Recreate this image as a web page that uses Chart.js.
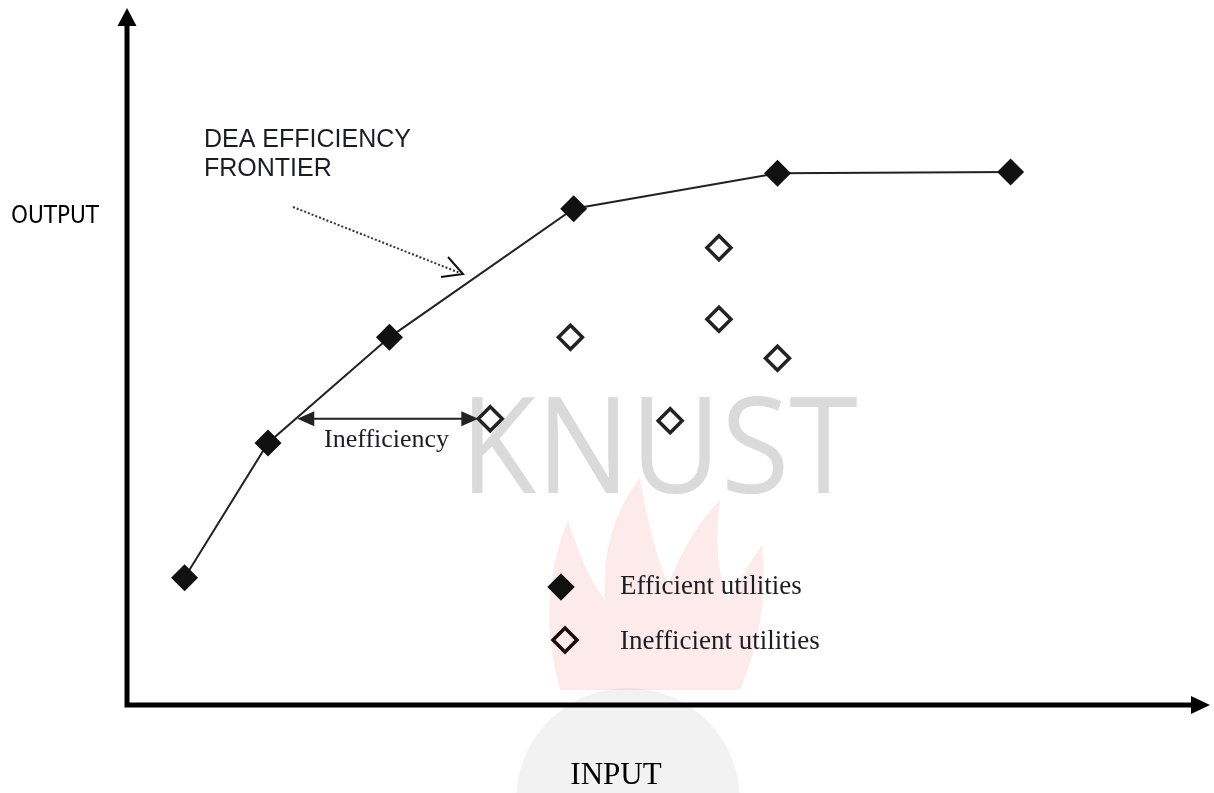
<!DOCTYPE html>
<html>
<head>
<meta charset="utf-8">
<script src="https://cdn.jsdelivr.net/npm/chart.js@4.4.0/dist/chart.umd.min.js"></script>
<style>
  html, body { margin: 0; padding: 0; background: #fff; }
  canvas { display: block; }
</style>
</head>
<body>
<canvas id="deaChart" width="1214" height="793"></canvas>
<script>
// --- datos (unidades arbitrarias 0-100) ---
const efficientInput = [5.4, 13.1, 24.3, 41.3, 60.1, 81.6];
const efficientOutput = [18.3, 37.7, 52.9, 71.4, 76.5, 76.7];
const inefficientInput = [33.6, 41.0, 50.2, 54.7, 54.7, 60.1];
const inefficientOutput = [41.2, 52.9, 40.9, 65.8, 55.5, 49.9];

// flecha "Inefficiency": desde la frontera hasta la unidad ineficiente
const gapFrom = 15.8;
const gapTo = 32.5;
const gapOutput = 41.2;

const axisTitleX = 'INPUT';
const axisTitleY = 'OUTPUT';
const frontierLabel = ['DEA EFFICIENCY', 'FRONTIER'];
const gapLabel = 'Inefficiency';
const legendLabels = ['Efficient utilities', 'Inefficient utilities'];

const ink = '#1c1c24';

function toPoints(xs, ys) {
    return xs.map((x, i) => ({ x: x, y: ys[i] }));
}

function arrowHead(ctx, tipX, tipY, angle, len, half) {
    ctx.save();
    ctx.translate(tipX, tipY);
    ctx.rotate(angle);
    ctx.beginPath();
    ctx.moveTo(0, 0);
    ctx.lineTo(-len, -half);
    ctx.lineTo(-len, half);
    ctx.closePath();
    ctx.fill();
    ctx.restore();
}

// --- marca de agua (KNUST + llama) ---
const watermarkPlugin = {
    id: 'watermark',
    beforeDatasetsDraw(chart) {
        const ctx = chart.ctx;
        ctx.save();
        // llama tenue
        ctx.fillStyle = 'rgba(245, 140, 140, 0.18)';
        ctx.beginPath();
        ctx.moveTo(560, 690);
        ctx.quadraticCurveTo(535, 600, 568, 520);
        ctx.quadraticCurveTo(585, 575, 605, 600);
        ctx.quadraticCurveTo(600, 530, 640, 478);
        ctx.quadraticCurveTo(650, 540, 668, 585);
        ctx.quadraticCurveTo(690, 530, 720, 500);
        ctx.quadraticCurveTo(712, 560, 728, 600);
        ctx.quadraticCurveTo(745, 570, 762, 545);
        ctx.quadraticCurveTo(770, 620, 740, 690);
        ctx.closePath();
        ctx.fill();
        // círculo gris inferior
        ctx.fillStyle = 'rgba(0, 0, 0, 0.05)';
        ctx.beginPath();
        ctx.arc(628, 800, 112, Math.PI, 2 * Math.PI);
        ctx.fill();
        // texto KNUST
        ctx.fillStyle = '#dadada';
        ctx.font = '400 134px "Open Sans", "DejaVu Sans", sans-serif';
        ctx.textBaseline = 'alphabetic';
        const w = ctx.measureText('KNUST').width;
        ctx.translate(460, 493);
        ctx.scale(398 / w, 1);
        ctx.fillText('KNUST', 0, 0);
        ctx.restore();
    }
};

// --- ejes con flechas, anotaciones y leyenda ---
const annotationsPlugin = {
    id: 'annotations',
    afterDatasetsDraw(chart) {
        const ctx = chart.ctx;
        const area = chart.chartArea;
        const xs = chart.scales.x;
        const ys = chart.scales.y;
        ctx.save();

        // ejes
        ctx.strokeStyle = '#000';
        ctx.fillStyle = '#000';
        ctx.lineWidth = 5;
        ctx.beginPath();
        ctx.moveTo(area.left + 1, area.bottom + 2.5);
        ctx.lineTo(area.left + 1, area.top + 16);
        ctx.moveTo(area.left - 1.5, area.bottom);
        ctx.lineTo(area.right - 16, area.bottom);
        ctx.stroke();
        arrowHead(ctx, area.left + 1, area.top - 2, -Math.PI / 2, 18, 9.5);
        arrowHead(ctx, area.right, area.bottom, 0, 19, 9);

        // flecha de ineficiencia (doble punta)
        const gy = ys.getPixelForValue(gapOutput);
        const gx1 = xs.getPixelForValue(gapFrom);
        const gx2 = xs.getPixelForValue(gapTo);
        ctx.strokeStyle = '#222';
        ctx.fillStyle = '#222';
        ctx.lineWidth = 2;
        ctx.beginPath();
        ctx.moveTo(gx1 + 10, gy);
        ctx.lineTo(gx2 - 10, gy);
        ctx.stroke();
        arrowHead(ctx, gx1, gy, Math.PI, 17, 7.5);
        arrowHead(ctx, gx2, gy, 0, 17, 7.5);

        // flecha punteada hacia la frontera
        ctx.strokeStyle = '#333';
        ctx.lineWidth = 2;
        ctx.setLineDash([2, 2]);
        ctx.beginPath();
        ctx.moveTo(293, 207);
        ctx.lineTo(460, 273);
        ctx.stroke();
        ctx.setLineDash([]);
        ctx.strokeStyle = '#111';
        ctx.beginPath();
        ctx.moveTo(448, 257);
        ctx.lineTo(463, 274);
        ctx.lineTo(441, 277);
        ctx.stroke();

        // textos
        ctx.fillStyle = ink;
        ctx.textBaseline = 'middle';
        ctx.textAlign = 'left';
        ctx.font = '25px "Liberation Sans", Arial, sans-serif';
        ctx.fillText(frontierLabel[0], 204, 140);
        ctx.fillText(frontierLabel[1], 204, 169);

        ctx.font = '24px "DejaVu Sans Condensed", "DejaVu Sans", sans-serif';
        ctx.fillStyle = '#000';
        ctx.fillText(axisTitleY, 11, 217);

        ctx.fillStyle = ink;
        ctx.font = '26px "Liberation Serif", "Times New Roman", serif';
        ctx.fillText(gapLabel, 324, 440);

        ctx.font = '31px "Liberation Serif", "Times New Roman", serif';
        ctx.textAlign = 'center';
        ctx.fillStyle = '#000';
        ctx.fillText(axisTitleX, 616, 776);

        // leyenda
        ctx.textAlign = 'left';
        ctx.fillStyle = ink;
        ctx.font = '27px "Liberation Serif", "Times New Roman", serif';
        ctx.fillText(legendLabels[0], 620, 587);
        ctx.fillText(legendLabels[1], 620, 642);

        const ds = chart.data.datasets;
        Chart.helpers.drawPoint(ctx, {
            pointStyle: 'rectRot', radius: ds[0].pointRadius, borderWidth: 0
        }, 561, 587);
        ctx.fillStyle = ds[0].pointBackgroundColor;
        ctx.fill();

        ctx.lineWidth = ds[1].pointBorderWidth;
        ctx.strokeStyle = '#1e0a0a';
        ctx.fillStyle = 'rgba(0,0,0,0)';
        Chart.helpers.drawPoint(ctx, {
            pointStyle: 'rectRot', radius: ds[1].pointRadius, borderWidth: ds[1].pointBorderWidth
        }, 565, 640);

        ctx.restore();
    }
};

new Chart(document.getElementById('deaChart'), {
    type: 'scatter',
    data: {
        datasets: [
            {
                label: legendLabels[0],
                data: toPoints(efficientInput, efficientOutput),
                showLine: true,
                borderColor: '#222',
                borderWidth: 2,
                pointStyle: 'rectRot',
                pointRadius: 13.5,
                pointBackgroundColor: '#111',
                pointBorderWidth: 0,
                clip: false,
                order: 1
            },
            {
                label: legendLabels[1],
                data: toPoints(inefficientInput, inefficientOutput),
                showLine: false,
                pointStyle: 'rectRot',
                pointRadius: 12,
                pointBackgroundColor: '#fff',
                pointBorderColor: '#222',
                pointBorderWidth: 3.5,
                clip: false,
                order: 2
            }
        ]
    },
    options: {
        responsive: false,
        animation: false,
        layout: { autoPadding: false, padding: { left: 126, right: 4, top: 10, bottom: 88 } },
        scales: {
            x: { type: 'linear', min: 0, max: 100, display: false },
            y: { type: 'linear', min: 0, max: 100, display: false }
        },
        plugins: {
            legend: { display: false },
            tooltip: { enabled: false }
        }
    },
    plugins: [watermarkPlugin, annotationsPlugin]
});
</script>
</body>
</html>
